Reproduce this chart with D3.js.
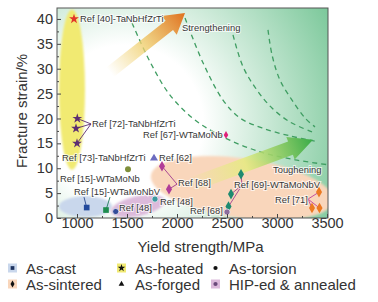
<!DOCTYPE html>
<html>
<head>
<meta charset="utf-8">
<script src="https://cdn.jsdelivr.net/npm/d3@7"></script>
<style>
  body { margin: 0; background: #fff; }
  text { font-family: "Liberation Sans", Arial, sans-serif; }
</style>
</head>
<body>
<div id="chart-area"></div>
<script>
// ---- data ----
var xTicks = [1000, 1500, 2000, 2500, 3000, 3500];
var yTicks = [0, 5, 10, 15, 20, 25, 30, 35, 40];
var categories = ["As-cast", "As-heated", "As-torsion", "As-sintered", "As-forged", "HIP-ed & annealed"];

var asHeated = [
    { ref: "40", ys: 970, fs: 40 },
    { ref: "72", ys: 1003, fs: 20 },
    { ref: "72", ys: 990, fs: 18 },
    { ref: "72", ys: 1000, fs: 15 }
];
var asTorsion = [{ ref: "73", ys: 1510, fs: 9.8 }];
var asCast = [
    { ref: "15a", ys: 1097, fs: 2.1 },
    { ref: "15b", ys: 1290, fs: 1.6 }
];
var hipAnnealed = [
    { ref: "48a", ys: 1387, fs: 1.3 },
    { ref: "48b", ys: 1780, fs: 3.8 },
    { ref: "68b", ys: 2500, fs: 1.2 }
];
var asForged = [{ ref: "62", ys: 1770, fs: 12.0 }];
var asSintered = [
    { ref: "68", ys: 1850, fs: 10.4 },
    { ref: "68", ys: 1920, fs: 5.8 },
    { ref: "67", ys: 2490, fs: 16.7 },
    { ref: "69", ys: 2640, fs: 8.8 },
    { ref: "69", ys: 2540, fs: 4.8 },
    { ref: "69", ys: 2515, fs: 2.3 },
    { ref: "71", ys: 3420, fs: 5.2 },
    { ref: "71", ys: 3350, fs: 2.0 },
    { ref: "71", ys: 3425, fs: 2.0 }
];

// shaded groups (centre / radius in MPa and %)
var groupAreas = [
    { type: "As-sintered", cx: 2650, cy: 6.0, rx: 920, ry: 6.0, rot: 8 },
    { type: "As-heated", cx: 950, cy: 25.8, rx: 130, ry: 16.1, rot: 0 },
    { type: "As-cast", cx: 1085, cy: 2.3, rx: 265, ry: 2.1, rot: 0 },
    { type: "HIP-ed & annealed", cx: 1610, cy: 2.4, rx: 275, ry: 2.0, rot: -12 }
];

// dashed strength-ductility contours
var contour1 = [[1550, 39.2], [1730, 31.4], [1930, 24.7], [2180, 19.7], [2480, 16.1], [2830, 13.3], [3180, 11.7], [3510, 10.7]];
var contour2 = [[2080, 40.2], [2260, 31.2], [2460, 23.7], [2630, 20.1], [2850, 18.1], [3130, 16.5], [3410, 15.3]];
var contour3 = [[2560, 36.8], [2660, 30.4], [2800, 25.7], [2950, 22.1], [3130, 19.3], [3350, 17.3]];
var contour4 = [[2910, 37.8], [2950, 32.8], [3030, 27.7], [3150, 23.7], [3280, 20.1], [3380, 18.3]];

var strengthArrow = { from: [1330, 29.3], to: [2080, 41.2] };
var toughArrow = { from: [2130, 6.6], to: [3360, 15.7] };

var labels = [
    { text: "Ref [40]-TaNbHfZrTi", ys: 1030, fs: 39.4 },
    { text: "Strengthening", ys: 2050, fs: 37.5 },
    { text: "Ref [72]-TaNbHfZrTi", ys: 1150, fs: 18.3 },
    { text: "Ref [67]-WTaMoNb", ys: 1660, fs: 16.0 },
    { text: "Ref [73]-TaNbHfZrTi", ys: 850, fs: 11.4 },
    { text: "Ref [62]", ys: 1820, fs: 11.4 },
    { text: "Ref [15]-WTaMoNb", ys: 830, fs: 7.3 },
    { text: "Ref [68]", ys: 2010, fs: 6.5 },
    { text: "Ref [15]-WTaMoNbV", ys: 970, fs: 4.7 },
    { text: "Ref [48]", ys: 1420, fs: 1.5 },
    { text: "Ref [48]", ys: 1830, fs: 2.6 },
    { text: "Ref [68]", ys: 2130, fs: 0.9 },
    { text: "Ref [69]-WTaMoNbV", ys: 2570, fs: 6.1 },
    { text: "Toughening", ys: 2960, fs: 9.1 },
    { text: "Ref [71]", ys: 2980, fs: 3.1 }
];

// leader lines: [from, to]
var leaders = [
    { ref: "72", from: [1140, 18.9], to: [1003, 20] },
    { ref: "72", from: [1140, 18.9], to: [990, 18] },
    { ref: "72", from: [1140, 18.9], to: [1000, 15] },
    { ref: "15a", from: [1070, 4.2], to: [1097, 2.1] },
    { ref: "15b", from: [1330, 4.2], to: [1290, 1.6] },
    { ref: "68", from: [2000, 6.8], to: [1850, 10.4] },
    { ref: "68", from: [2000, 6.8], to: [1920, 5.8] },
    { ref: "69", from: [2650, 6.6], to: [2640, 8.8] },
    { ref: "69", from: [2650, 6.6], to: [2540, 4.8] },
    { ref: "69", from: [2650, 6.6], to: [2515, 2.3] },
    { ref: "71", from: [3310, 3.8], to: [3420, 5.2] },
    { ref: "71", from: [3310, 3.8], to: [3350, 2.0] },
    { ref: "71", from: [3310, 3.8], to: [3425, 2.0] }
];

// ---- styles ----
var refColor = {
    "40": "#e2352a", "72": "#5b2d72", "73": "#7f8f3a", "15a": "#234a9c", "15b": "#1d8c4e",
    "48a": "#344c9a", "48b": "#3a9aa0", "68b": "#8c6c9c", "62": "#6c6cc0", "68": "#b03c98",
    "67": "#e0207a", "69": "#1f8a70", "71": "#ec7a22"
};
var leaderColor = { "72": "#5b2d72", "15a": "#2a4a8c", "15b": "#1d7a5a", "68": "#a03a8e", "69": "#a04090", "71": "#c0409a" };
var areaColor = {
    "As-cast": "#c9d7ec", "As-heated": "#f1ea72", "As-torsion": "none",
    "As-sintered": "#f9d6bb", "As-forged": "none", "HIP-ed & annealed": "#dcbadb"
};
var symbolOf = {
    "As-cast": d3.symbolSquare, "As-heated": d3.symbolStar, "As-torsion": d3.symbolCircle,
    "As-sintered": d3.symbolDiamond, "As-forged": d3.symbolTriangle, "HIP-ed & annealed": d3.symbolCircle
};

var margin = { top: 8, right: 50, bottom: 84, left: 57 },
    width = 378 - margin.left - margin.right,
    height = 302 - margin.top - margin.bottom;

var root = d3.select("#chart-area")
    .append("svg")
    .attr("width", 378)
    .attr("height", 302)
    .style("display", "block");

var defs = root.append("defs");

var svg = root.append("g")
    .attr("transform", `translate(${margin.left},${margin.top})`);

var x = d3.scaleLinear().domain([800, 3510]).range([0, width]);
var y = d3.scaleLinear().domain([0, 42.2]).range([height, 0]);

defs.append("clipPath").attr("id", "plot-clip")
    .append("rect").attr("width", width).attr("height", height);

var bg = defs.append("radialGradient")
    .attr("id", "bg-grad")
    .attr("gradientUnits", "userSpaceOnUse")
    .attr("cx", width * 0.25).attr("cy", height * 0.55).attr("r", 245);
bg.append("stop").attr("offset", 0).attr("stop-color", "#ffffff");
bg.append("stop").attr("offset", 0.32).attr("stop-color", "#ffffff");
bg.append("stop").attr("offset", 1).attr("stop-color", "#72c493");

defs.append("filter").attr("id", "soft")
    .append("feGaussianBlur").attr("stdDeviation", 1);

var plot = svg.append("g").attr("clip-path", "url(#plot-clip)");

plot.append("rect")
    .attr("width", width)
    .attr("height", height)
    .attr("fill", "url(#bg-grad)");

// group areas
plot.selectAll(".area")
    .data(groupAreas)
    .enter()
    .append("ellipse")
    .attr("class", "area")
    .attr("cx", 0).attr("cy", 0)
    .attr("rx", d => x(d.cx + d.rx) - x(d.cx))
    .attr("ry", d => y(d.cy - d.ry) - y(d.cy))
    .attr("transform", d => `translate(${x(d.cx)},${y(d.cy)}) rotate(${d.rot})`)
    .attr("fill", d => areaColor[d.type])
    .attr("filter", "url(#soft)");

// contours
var line = d3.line().x(d => x(d[0])).y(d => y(d[1])).curve(d3.curveCatmullRom);
plot.selectAll(".contour")
    .data([contour1, contour2, contour3, contour4])
    .enter()
    .append("path")
    .attr("class", "contour")
    .attr("d", line)
    .attr("fill", "none")
    .attr("stroke", "#3f9d62")
    .attr("stroke-width", 1.3)
    .attr("stroke-dasharray", "5,4");

// arrows
function arrowPath(a, bodyW, headW, headL) {
    var x0 = x(a.from[0]), y0 = y(a.from[1]), x1 = x(a.to[0]), y1 = y(a.to[1]);
    var len = Math.hypot(x1 - x0, y1 - y0), ux = (x1 - x0) / len, uy = (y1 - y0) / len;
    var nx = -uy, ny = ux;
    var bx = x1 - ux * headL, by = y1 - uy * headL;
    var pts = [
        [x0 + nx * bodyW, y0 + ny * bodyW], [bx + nx * bodyW, by + ny * bodyW],
        [bx + nx * headW, by + ny * headW], [x1, y1],
        [bx - nx * headW, by - ny * headW], [bx - nx * bodyW, by - ny * bodyW],
        [x0 - nx * bodyW, y0 - ny * bodyW]
    ];
    return "M" + pts.map(p => p.join(",")).join("L") + "Z";
}
function arrowGrad(id, a, c0, c1) {
    var g = defs.append("linearGradient").attr("id", id)
        .attr("gradientUnits", "userSpaceOnUse")
        .attr("x1", x(a.from[0])).attr("y1", y(a.from[1]))
        .attr("x2", x(a.to[0])).attr("y2", y(a.to[1]));
    g.append("stop").attr("offset", 0).attr("stop-color", c0).attr("stop-opacity", 0);
    g.append("stop").attr("offset", 0.45).attr("stop-color", c0).attr("stop-opacity", 0.8);
    g.append("stop").attr("offset", 1).attr("stop-color", c1);
}
arrowGrad("grad-strength", strengthArrow, "#f0d070", "#e0701e");
arrowGrad("grad-tough", toughArrow, "#e4ec7c", "#38ab48");

plot.append("path").attr("d", arrowPath(strengthArrow, 6, 12, 20)).attr("fill", "url(#grad-strength)");
plot.append("path").attr("d", arrowPath(toughArrow, 7, 12, 24)).attr("fill", "url(#grad-tough)");

// leader lines
plot.selectAll(".leader")
    .data(leaders)
    .enter()
    .append("line")
    .attr("class", "leader")
    .attr("x1", d => x(d.from[0])).attr("y1", d => y(d.from[1]))
    .attr("x2", d => x(d.to[0])).attr("y2", d => y(d.to[1]))
    .attr("stroke", d => leaderColor[d.ref])
    .attr("stroke-width", 0.9);

// labels
plot.selectAll(".ann")
    .data(labels)
    .enter()
    .append("text")
    .attr("class", "ann")
    .attr("x", d => x(d.ys))
    .attr("y", d => y(d.fs))
    .attr("font-size", "9.4px")
    .attr("fill", "#383838")
    .attr("stroke", "#fff")
    .attr("stroke-width", 2)
    .attr("stroke-opacity", 0.7)
    .attr("paint-order", "stroke")
    .text(d => d.text);

// points
var groups = [
    ["As-sintered", asSintered], ["As-heated", asHeated], ["As-torsion", asTorsion],
    ["As-cast", asCast], ["HIP-ed & annealed", hipAnnealed], ["As-forged", asForged]
];
var symSize = { "As-cast": 32, "As-heated": 30, "As-torsion": 28, "As-sintered": 32, "As-forged": 28, "HIP-ed & annealed": 30 };
groups.forEach(function (g) {
    var type = g[0];
    plot.selectAll(".pt-" + type.replace(/[^a-z]/gi, ""))
        .data(g[1])
        .enter()
        .append("path")
        .attr("d", d3.symbol().type(symbolOf[type]).size(d => d.ref === "67" ? 18 : symSize[type]))
        .attr("transform", d => `translate(${x(d.ys)},${y(d.fs)})`)
        .attr("fill", d => refColor[d.ref])
        .attr("stroke", type === "HIP-ed & annealed" ? "#e8e8f0" : "none")
        .attr("stroke-width", 0.8);
});

// axes (ticks inside)
var xAxis = d3.axisBottom(x).tickValues(d3.range(1000, 3501, 250)).tickSize(-4).tickSizeOuter(0)
    .tickFormat(d => xTicks.includes(d) ? d : "");
var yAxis = d3.axisLeft(y).tickValues(d3.range(0, 41, 2.5)).tickSize(-4).tickSizeOuter(0)
    .tickFormat(d => yTicks.includes(d) ? d : "");

var gx = svg.append("g").attr("transform", `translate(0,${height})`).call(xAxis);
var gy = svg.append("g").call(yAxis);
[gx, gy].forEach(function (g) {
    g.select(".domain").remove();
    g.selectAll(".tick line").attr("stroke", "#444");
    g.selectAll(".tick text").attr("font-size", "14.5px").attr("fill", "#333")
        .attr("font-family", "'Liberation Sans', Arial, sans-serif");
});
gx.selectAll(".tick").filter(d => !xTicks.includes(d)).select("line").attr("y2", -2);
gy.selectAll(".tick").filter(d => !yTicks.includes(d)).select("line").attr("x2", 2);
gx.selectAll(".tick text").attr("dy", "0.3em").attr("y", 6);
gy.selectAll(".tick text").attr("x", -4);

svg.append("rect")
    .attr("width", width)
    .attr("height", height)
    .attr("fill", "none")
    .attr("stroke", "#555")
    .attr("stroke-width", 1);

svg.append("text")
    .attr("x", width / 2 + 8)
    .attr("y", height + 34)
    .attr("text-anchor", "middle")
    .attr("font-size", "15px")
    .attr("fill", "#333")
    .text("Yield strength/MPa");

svg.append("text")
    .attr("transform", "rotate(-90)")
    .attr("x", -height / 2 + 2)
    .attr("y", -30)
    .attr("text-anchor", "middle")
    .attr("font-size", "15px")
    .attr("fill", "#333")
    .text("Fracture strain/%");

// legend
var legendPos = [[8, 268], [117, 268], [211, 268], [8, 284], [117, 284], [211, 284]];
var legend = root.append("g").attr("class", "legend");
var legendRow = legend.selectAll(".legend-row")
    .data(categories)
    .enter()
    .append("g")
    .attr("class", "legend-row")
    .attr("transform", (d, i) => `translate(${legendPos[i][0]},${legendPos[i][1]})`);

legendRow.filter(d => areaColor[d] !== "none")
    .append("rect")
    .attr("x", 0).attr("y", -4.5)
    .attr("width", 9).attr("height", 9)
    .attr("fill", d => areaColor[d]);

legendRow.append("path")
    .attr("transform", "translate(4.5,0)")
    .attr("d", d => d3.symbol().type(symbolOf[d]).size(d === "As-heated" ? 18 : 14)())
    .attr("fill", d => d === "As-cast" ? "#1d3360" : d === "HIP-ed & annealed" ? "#6a4a7a" : "#111");

legendRow.append("text")
    .attr("x", 18)
    .attr("y", 5.5)
    .attr("font-size", "15px")
    .attr("fill", "#333")
    .text(d => d);
</script>
</body>
</html>
